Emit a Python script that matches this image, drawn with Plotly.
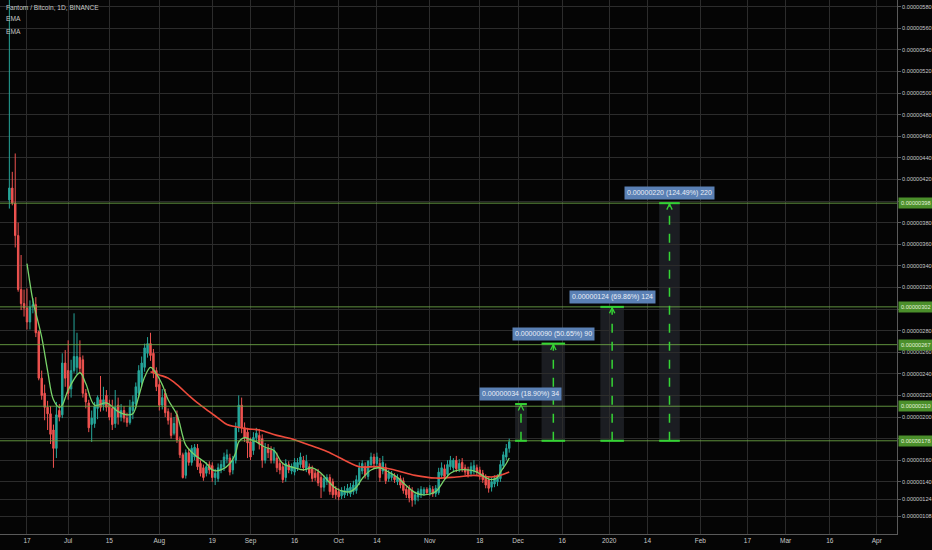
import pandas as pd
import plotly.graph_objects as go

# ---------------- data (prices in satoshi = 1e-8 BTC) ----------------
first_day = "2019-06-11"
opens = [401,412,398,368,318,305,301,288,302,304,279,236,222,209,203,188,171,206,202,250,
         243,226,243,246,255,253,222,213,193,194,208,216,211,220,211,208,194,211,200,206,
         199,195,206,212,222,232,246,259,268,259,243,230,211,222,205,199,185,202,179,165,
         146,167,158,163,171,157,153,148,156,155,144,143,151,154,161,162,151,160,190,211,
         190,186,177,169,181,183,180,160,171,169,160,162,157,154,144,156,150,149,153,156,
         160,152,154,152,148,149,144,135,140,144,140,133,131,127,128,130,129,131,132,140,
         150,154,145,156,163,157,157,150,153,143,144,145,140,143,141,133,134,132,123,126,
         128,129,133,130,133,129,130,146,152,147,154,153,160,152,158,153,151,148,150,153,
         151,148,144,142,135,138,140,143,155,163,171]
highs = [640,427,444,380,350,318,319,308,310,311,280,243,230,215,210,193,214,212,259,262,
         271,253,296,278,271,257,226,216,206,214,220,238,228,225,216,216,225,218,212,210,
         204,216,220,232,248,256,268,274,278,263,246,236,226,226,208,204,200,206,182,167,
         170,171,174,175,175,160,156,158,159,158,152,157,160,167,170,166,164,195,220,218,
         195,190,181,186,190,189,184,176,175,173,172,167,160,158,161,159,157,162,162,167,
         164,165,157,155,151,152,148,146,147,147,143,136,134,135,136,138,139,141,146,158,
         160,158,160,167,166,167,162,164,157,151,150,148,147,146,144,136,137,135,131,134,
         136,135,135,137,136,137,153,158,156,160,164,162,164,161,162,156,154,158,160,156,
         154,151,147,145,144,146,147,160,168,175,180]
lows = [393,396,357,316,299,293,281,281,296,274,234,216,197,188,175,153,162,196,199,228,
        216,218,241,239,241,218,208,186,177,190,198,205,206,205,197,188,190,193,196,195,
        191,193,198,208,218,228,242,255,252,236,224,206,207,200,193,180,183,176,162,143,
        143,155,155,160,151,145,141,145,147,140,137,140,148,150,157,146,147,157,186,185,
        177,162,160,165,177,170,153,157,162,157,157,149,147,139,140,148,147,146,150,153,
        150,149,146,140,141,136,125,131,137,128,125,124,123,124,125,127,126,128,129,137,
        147,143,142,153,152,154,140,147,138,140,141,139,137,134,129,125,121,117,119,122,
        125,127,128,127,126,126,128,143,142,144,151,150,149,149,149,146,144,145,147,146,
        142,139,134,130,131,135,136,140,152,160,167]
closes = [412,398,368,318,305,301,288,302,304,278,236,220,209,203,184,171,202,200,250,236,
          222,243,256,256,245,222,214,190,199,210,218,209,216,209,200,193,209,200,206,199,
          195,209,214,228,243,250,264,268,257,241,228,211,218,204,197,183,194,179,165,144,
          167,158,171,172,154,148,144,154,151,144,148,153,156,163,165,149,160,190,211,190,
          181,176,163,181,185,175,160,171,167,160,169,153,151,142,157,151,154,158,158,163,
          153,159,148,143,144,139,135,143,144,131,128,128,126,132,132,134,135,137,142,153,
          157,146,159,163,157,163,144,158,141,148,147,142,144,137,132,128,125,123,128,131,
          133,133,130,134,129,134,149,153,145,156,160,160,152,157,152,149,147,154,155,149,
          145,142,137,134,140,143,144,156,165,171,177]

ema_fast_dates = ["2019-06-17","2019-06-18","2019-06-19","2019-06-22","2019-06-24","2019-06-26",
                  "2019-06-28","2019-06-29","2019-07-01","2019-07-05","2019-07-07","2019-07-10",
                  "2019-07-14","2019-07-18","2019-07-21","2019-07-23","2019-07-25","2019-07-27",
                  "2019-07-29","2019-07-31","2019-08-02","2019-08-04","2019-08-07","2019-08-09",
                  "2019-08-10","2019-08-13","2019-08-17","2019-08-19","2019-08-22","2019-08-25",
                  "2019-08-27","2019-08-28","2019-08-30","2019-09-01","2019-09-03","2019-09-06",
                  "2019-09-09","2019-09-12","2019-09-16","2019-09-19","2019-09-22","2019-09-25",
                  "2019-09-27","2019-09-30","2019-10-03","2019-10-05","2019-10-07","2019-10-09",
                  "2019-10-12","2019-10-15","2019-10-18","2019-10-21","2019-10-23","2019-10-27",
                  "2019-10-30","2019-11-03","2019-11-06","2019-11-08","2019-11-11","2019-11-14",
                  "2019-11-17","2019-11-20","2019-11-22","2019-11-24","2019-11-25","2019-11-27",
                  "2019-11-28"]
ema_fast = [342,324,308,274,243,216,209,211,225,241,231,211,213,205,202,203,219,237,246,240,
            230,216,202,182,174,165,157,151,151,157,167,177,181,179,177,172,169,157,153,151,
            153,148,142,134,131,131,135,143,151,153,149,144,139,130,128,131,142,148,151,151,
            149,144,142,144,149,157,162]

ema_slow_dates = ["2019-07-29","2019-08-01","2019-08-04","2019-08-07","2019-08-11","2019-08-14",
                  "2019-08-18","2019-08-21","2019-08-24","2019-08-27","2019-08-31","2019-09-04",
                  "2019-09-10","2019-09-16","2019-09-21","2019-09-27","2019-10-03","2019-10-08",
                  "2019-10-14","2019-10-20","2019-10-27","2019-11-03","2019-11-10","2019-11-16",
                  "2019-11-22","2019-11-25","2019-11-28"]
ema_slow = [242,239,236,230,220,213,205,199,193,191,189,188,183,179,174,168,160,154,154,151,
            146,143.5,144.5,146,144.5,146,149]

level_prices = [398, 302, 267, 210, 178]
level_labels = ["0.00000398", "0.00000302", "0.00000267", "0.00000210", "0.00000178"]

range_start = ["2019-11-30", "2019-12-09", "2019-12-29", "2020-01-18"]
range_end = ["2019-12-04", "2019-12-17", "2020-01-06", "2020-01-25"]
range_base = 178
range_top = [212, 268, 302, 398]
range_text = ["0.00000034 (18.90%) 34", "0.00000090 (50.65%) 90",
              "0.00000124 (69.86%) 124", "0.00000220 (124.49%) 220"]

ytick_vals = [108, 124, 140, 160, 180, 200, 220, 240, 260, 280, 300, 320, 340, 360, 380, 400,
              420, 440, 460, 480, 500, 520, 540, 560, 580]
ytick_hidden = [180, 300, 400]

xtick_dates = ["2019-06-17", "2019-07-01", "2019-07-15", "2019-08-01", "2019-08-19", "2019-09-01",
               "2019-09-16", "2019-10-01", "2019-10-14", "2019-11-01", "2019-11-18", "2019-12-01",
               "2019-12-16", "2020-01-01", "2020-01-14", "2020-02-01", "2020-02-17", "2020-03-01",
               "2020-03-16", "2020-04-01"]
xtick_text = ["17", "Jul", "15", "Aug", "19", "Sep", "16", "Oct", "14", "Nov", "18", "Dec", "16",
              "2020", "14", "Feb", "17", "Mar", "16", "Apr"]

# ---------------- figure ----------------
S = 1e-8
sc = lambda arr: [v * S for v in arr]
dates = pd.date_range(first_day, periods=len(opens), freq="D")

BG = "#050505"
GRID = "#2c2c2c"
UP = "#26a69a"
DOWN = "#ef5350"
LEVEL = "rgba(112,170,72,0.85)"
BRIGHT = "#35d435"
TXT = "#c9c9c9"

fig = go.Figure()

shapes = []
for s, e, t in zip(range_start, range_end, range_top):
    shapes.append(dict(type="rect", xref="x", yref="y", x0=s, x1=e, y0=range_base * S, y1=t * S,
                       fillcolor="rgba(110,120,140,0.22)", line=dict(width=0), layer="below"))
for p in level_prices:
    shapes.append(dict(type="line", xref="paper", yref="y", x0=0, x1=1, y0=p * S, y1=p * S,
                       line=dict(color=LEVEL, width=1)))
for s, e, t in zip(range_start, range_end, range_top):
    for yv in (range_base, t):
        shapes.append(dict(type="line", xref="x", yref="y", x0=s, x1=e, y0=yv * S, y1=yv * S,
                           line=dict(color=BRIGHT, width=2)))
    c = pd.Timestamp(s) + (pd.Timestamp(e) - pd.Timestamp(s)) / 2
    shapes.append(dict(type="line", xref="x", yref="y", x0=c, x1=c, y0=range_base * S, y1=t * S,
                       line=dict(color=BRIGHT, width=1.5, dash="dash")))

fig.add_trace(go.Candlestick(
    x=dates, open=sc(opens), high=sc(highs), low=sc(lows), close=sc(closes),
    increasing=dict(line=dict(color=UP, width=1), fillcolor=UP),
    decreasing=dict(line=dict(color=DOWN, width=1), fillcolor=DOWN),
    whiskerwidth=0, showlegend=False, hoverinfo="skip"))

fig.add_trace(go.Scatter(x=ema_slow_dates, y=sc(ema_slow), mode="lines",
                         line=dict(color="#ee4b3c", width=1.6, shape="spline"),
                         showlegend=False, hoverinfo="skip"))
fig.add_trace(go.Scatter(x=ema_fast_dates, y=sc(ema_fast), mode="lines",
                         line=dict(color="#79d36a", width=1.3, shape="spline"),
                         showlegend=False, hoverinfo="skip"))

for s, e, t in zip(range_start, range_end, range_top):
    c = pd.Timestamp(s) + (pd.Timestamp(e) - pd.Timestamp(s)) / 2
    d = pd.Timedelta(hours=22)
    fig.add_trace(go.Scatter(x=[c - d, c, c + d], y=[(t - 6) * S, (t - 0.8) * S, (t - 6) * S],
                             mode="lines", line=dict(color=BRIGHT, width=1.3),
                             showlegend=False, hoverinfo="skip"))

annotations = []
for s, e, t, txt in zip(range_start, range_end, range_top, range_text):
    c = pd.Timestamp(s) + (pd.Timestamp(e) - pd.Timestamp(s)) / 2
    annotations.append(dict(x=c, y=t * S, xref="x", yref="y", text=txt, showarrow=False,
                            yanchor="bottom", yshift=3, bgcolor="#5a80b4",
                            font=dict(family="Liberation Sans", size=7, color="#e9eef7"),
                            borderpad=2))
for p, lab in zip(level_prices, level_labels):
    annotations.append(dict(x=1, y=p * S, xref="paper", yref="y", text=lab, showarrow=False,
                            xanchor="left", xshift=1, bgcolor="#4b8f2b",
                            font=dict(family="Liberation Sans", size=5.6, color="#e4f2dc"),
                            borderpad=2))
legend_lines = ["Fantom / Bitcoin, 1D, BINANCE", "EMA", "EMA"]
for k, txt in enumerate(legend_lines):
    annotations.append(dict(x=0.004, y=1 - (7 + 12 * k) / 534, xref="paper", yref="paper",
                            text=txt, showarrow=False, xanchor="left", yanchor="middle",
                            font=dict(family="Liberation Sans", size=6.6, color=TXT)))

fig.update_layout(
    width=932, height=550,
    margin=dict(l=0, r=35, t=0, b=16, autoexpand=False),
    paper_bgcolor=BG, plot_bgcolor=BG,
    shapes=shapes, annotations=annotations,
    showlegend=False,
    xaxis=dict(type="date", range=["2019-06-07 19:40", "2020-04-07 21:00"],
               tickvals=xtick_dates, ticktext=xtick_text, showgrid=True, gridcolor=GRID,
               gridwidth=1, zeroline=False, showline=True, linecolor="#5a5a5a",
               tickfont=dict(family="Liberation Sans", size=6.5, color=TXT),
               rangeslider=dict(visible=False), fixedrange=True, automargin=False),
    yaxis=dict(side="right", range=[91.7 * S, 586.1 * S],
               tickvals=[v * S for v in ytick_vals],
               ticktext=["" if v in ytick_hidden else "0.%08d" % v for v in ytick_vals],
               showgrid=True, gridcolor=GRID, zeroline=False, showline=True,
               linecolor="#5a5a5a", ticks="outside", ticklen=3, tickcolor="#5a5a5a",
               tickfont=dict(family="Liberation Sans", size=5.6, color=TXT),
               fixedrange=True, automargin=False),
)

fig.write_html(
    "out.html",
    config={"displayModeBar": False},
    post_script="document.body.style.margin='0';document.body.style.overflow='hidden';"
                "document.body.style.background='#050505';",
)
